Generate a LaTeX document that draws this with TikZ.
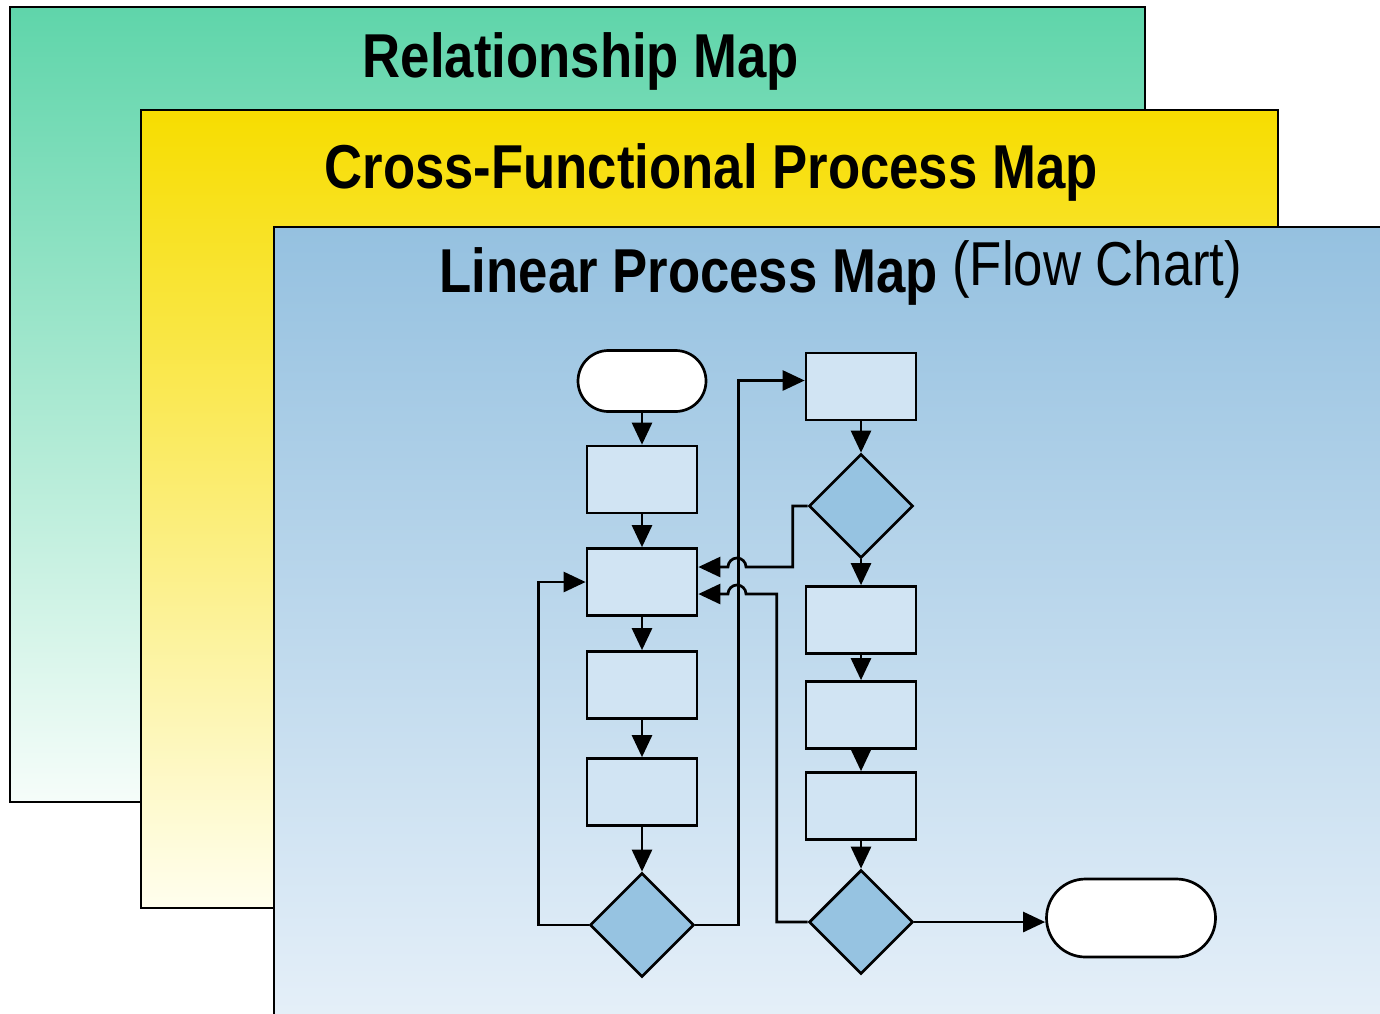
\documentclass[tikz,border=0pt]{standalone}
\usepackage{fontspec}
\setmainfont{Liberation Sans}[FakeStretch=0.85]
\usetikzlibrary{shapes.geometric, shapes.misc, arrows.meta, positioning}

\definecolor{relTop}{HTML}{5FD5AA}
\definecolor{relBot}{HTML}{F6FDFA}
\definecolor{crossTop}{HTML}{F7DD00}
\definecolor{crossBot}{HTML}{FFFEEE}
\definecolor{linTop}{HTML}{95C1E0}
\definecolor{linBot}{HTML}{E6F0F9}
\definecolor{boxFill}{HTML}{D1E4F3}
\definecolor{decFill}{HTML}{96C3E1}

\tikzset{
        >={Triangle[length=11pt, width=10pt]}, % big filled arrow heads
        sheet/.style={draw=black, line width=0.9pt}, % the three stacked maps
        title/.style={font=\fontsize{31}{36}\selectfont\bfseries, inner sep=0pt, anchor=base},
        process/.style={draw, fill=boxFill, minimum width=55pt, minimum height=33.5pt, inner sep=0pt},
        decision/.style={draw, diamond, fill=decFill, minimum width=52pt, minimum height=52pt, inner sep=0pt, aspect=1},
        terminal/.style={draw, rounded rectangle, fill=white, inner sep=0pt},
        }

\begin{document}
\begin{tikzpicture}[x=0.5pt, y=-0.5pt, line width=1.35pt]
        \useasboundingbox (0,0) rectangle (1380,1013);
        % sheets, back to front
        \shadedraw[sheet, top color=relTop, bottom color=relBot] (10,7) rectangle (1145,802);
        \node[title] (RelTitle) at (581,77) {Relationship Map};
        \shadedraw[sheet, top color=crossTop, bottom color=crossBot] (141,110) rectangle (1278,908);
        \node[title] (CrossTitle) at (711,188) {Cross-Functional\ Process Map};
        \shadedraw[sheet, top color=linTop, bottom color=linBot] (274,227) rectangle (1395,1030);
        \node[title] (LinTitle) at (841,292) {Linear Process Map \raisebox{3.5pt}{\mdseries(Flow Chart)}};

        % left column
        \node[terminal, minimum width=64pt, minimum height=30.5pt] (Start) at (642,381) {};
        \node[process, below of=Start, node distance=49.25pt] (Step1) {};
        \node[process, below of=Step1, node distance=51.25pt] (Step2) {};
        \node[process, below of=Step2, node distance=51.5pt] (Step3) {};
        \node[process, below of=Step3, node distance=53.5pt] (Step4) {};
        \node[decision, below of=Step4, node distance=66.5pt] (Decide1) {};

        % right column
        \node[process] (Step5) at (861,386.5) {};
        \node[decision, below of=Step5, node distance=59.75pt] (Decide2) {};
        \node[process, below of=Decide2, node distance=57pt] (Step6) {};
        \node[process, below of=Step6, node distance=47.5pt] (Step7) {};
        \node[process, below of=Step7, node distance=45.5pt] (Step8) {};
        \node[decision, below of=Step8, node distance=58pt] (Decide3) {};
        \node[terminal, minimum width=84.5pt, minimum height=39pt] (End) at (1131,918) {};

        \draw[->] (Start) -- (Step1);
        \draw[->] (Step1) -- (Step2);
        \draw[->] (Step2) -- (Step3);
        \draw[->] (Step3) -- (Step4);
        \draw[->] (Step4) -- (Decide1);
        \draw[->] (Decide1.west) -- ++(-50,0) |- (Step2.west);
        \draw[->] (Decide1.east) -- ++(43,0) |- ([yshift=3pt]Step5.west);

        \draw[->] (Step5) -- (Decide2);
        \draw[->] (Decide2) -- (Step6);
        \draw[->] (Step6) -- (Step7);
        \draw[->] (Step7) -- (Step8);
        \draw[->] (Step8) -- (Decide3);
        % loops back with a hop over the rising line
        \draw[->] (Decide2.west) -- ++(-15,0) |- (746,567) arc[start angle=0, end angle=180, radius=4.5pt] -- ([yshift=7.5pt]Step2.east);
        \draw[->] (Decide3.west) -- ++(-31,0) |- (746,594) arc[start angle=0, end angle=180, radius=4.5pt] -- ([yshift=-6pt]Step2.east);
        \draw[->] (Decide3.east) -- (End.west |- Decide3.east);
\end{tikzpicture}
\end{document}
